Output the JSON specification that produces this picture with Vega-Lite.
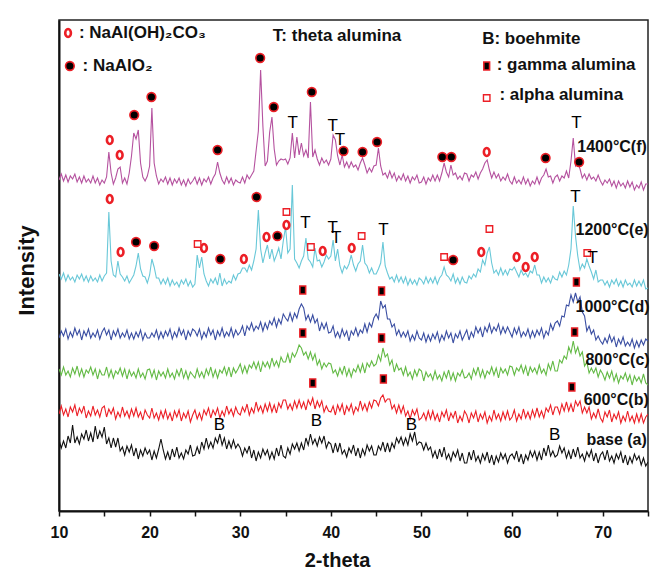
{
  "$schema": "https://vega.github.io/schema/vega-lite/v6.json",
  "width": 589,
  "height": 491,
  "autosize": {"type": "none"},
  "padding": {"left": 59, "top": 20, "right": 2, "bottom": 58},
  "background": "white",
  "config": {"view": {"stroke": "#222222", "strokeWidth": 1.5}, "font": "Liberation Sans"},
  "datasets": {
    "xrd": [
      {"x":10,"a":71,"b":97,"c":142,"d":173,"e":237,"f":331},
      {"x":10.25,"a":63,"b":105,"c":136,"d":180,"e":232,"f":337},
      {"x":10.5,"a":70,"b":96,"c":144,"d":175,"e":238,"f":330},
      {"x":10.75,"a":63,"b":102,"c":136,"d":182,"e":230,"f":336},
      {"x":11,"a":75,"b":94,"c":140,"d":172,"e":236,"f":329},
      {"x":11.25,"a":68,"b":104,"c":134,"d":179,"e":231,"f":335},
      {"x":11.5,"a":86,"b":99,"c":143,"d":174,"e":234,"f":332},
      {"x":11.75,"a":68,"b":106,"c":137,"d":183,"e":229,"f":337},
      {"x":12,"a":74,"b":95,"c":145,"d":176,"e":236,"f":329},
      {"x":12.25,"a":67,"b":103,"c":135,"d":181,"e":232,"f":334},
      {"x":12.5,"a":77,"b":98,"c":142,"d":171,"e":237,"f":328},
      {"x":12.75,"a":72,"b":105,"c":134,"d":180,"e":230,"f":335},
      {"x":13,"a":81,"b":93,"c":141,"d":175,"e":235,"f":329},
      {"x":13.25,"a":70,"b":100,"c":138,"d":182,"e":229,"f":332},
      {"x":13.5,"a":78,"b":95,"c":144,"d":173,"e":235,"f":328},
      {"x":13.75,"a":69,"b":105,"c":136,"d":178,"e":230,"f":335},
      {"x":14,"a":85,"b":96,"c":142,"d":174,"e":233,"f":328},
      {"x":14.25,"a":72,"b":101,"c":132,"d":181,"e":229,"f":333},
      {"x":14.5,"a":80,"b":94,"c":141,"d":172,"e":236,"f":326},
      {"x":14.75,"a":74,"b":103,"c":136,"d":179,"e":230,"f":331},
      {"x":15,"a":84,"b":105,"c":136,"d":183,"e":235,"f":328},
      {"x":15.25,"a":67,"b":94,"c":144,"d":176,"e":238,"f":334},
      {"x":15.5,"a":73,"b":102,"c":134,"d":181,"e":299,"f":359},
      {"x":15.75,"a":63,"b":97,"c":141,"d":171,"e":250,"f":338},
      {"x":16,"a":73,"b":103,"c":133,"d":180,"e":236,"f":327},
      {"x":16.25,"a":64,"b":92,"c":140,"d":175,"e":234,"f":333},
      {"x":16.5,"a":73,"b":99,"c":137,"d":182,"e":250,"f":342},
      {"x":16.75,"a":60,"b":94,"c":143,"d":173,"e":237,"f":344},
      {"x":17,"a":64,"b":104,"c":135,"d":178,"e":234,"f":328},
      {"x":17.25,"a":56,"b":95,"c":142,"d":174,"e":230,"f":333},
      {"x":17.5,"a":65,"b":100,"c":132,"d":181,"e":235,"f":327},
      {"x":17.75,"a":59,"b":93,"c":141,"d":172,"e":228,"f":338},
      {"x":18,"a":66,"b":102,"c":135,"d":178,"e":232,"f":355},
      {"x":18.25,"a":55,"b":95,"c":139,"d":172,"e":236,"f":378},
      {"x":18.5,"a":63,"b":103,"c":133,"d":179,"e":245,"f":372},
      {"x":18.75,"a":52,"b":94,"c":142,"d":174,"e":258,"f":381},
      {"x":19,"a":61,"b":99,"c":134,"d":181,"e":242,"f":348},
      {"x":19.25,"a":55,"b":91,"c":138,"d":171,"e":235,"f":334},
      {"x":19.5,"a":63,"b":101,"c":132,"d":178,"e":234,"f":330},
      {"x":19.75,"a":57,"b":96,"c":141,"d":173,"e":228,"f":335},
      {"x":20,"a":61,"b":93,"c":142,"d":173,"e":236,"f":345},
      {"x":20.25,"a":51,"b":103,"c":134,"d":178,"e":252,"f":403},
      {"x":20.5,"a":60,"b":93,"c":141,"d":174,"e":244,"f":348},
      {"x":20.75,"a":53,"b":98,"c":131,"d":181,"e":233,"f":335},
      {"x":21,"a":62,"b":91,"c":140,"d":172,"e":233,"f":327},
      {"x":21.25,"a":72,"b":100,"c":135,"d":179,"e":227,"f":332},
      {"x":21.5,"a":61,"b":93,"c":139,"d":173,"e":232,"f":329},
      {"x":21.75,"a":52,"b":101,"c":133,"d":180,"e":227,"f":334},
      {"x":22,"a":59,"b":92,"c":142,"d":175,"e":233,"f":327},
      {"x":22.25,"a":51,"b":98,"c":134,"d":182,"e":225,"f":333},
      {"x":22.5,"a":62,"b":90,"c":138,"d":172,"e":231,"f":326},
      {"x":22.75,"a":54,"b":100,"c":132,"d":179,"e":226,"f":332},
      {"x":23,"a":64,"b":94,"c":141,"d":174,"e":229,"f":328},
      {"x":23.25,"a":53,"b":101,"c":135,"d":183,"e":224,"f":333},
      {"x":23.5,"a":58,"b":90,"c":143,"d":176,"e":231,"f":326},
      {"x":23.75,"a":52,"b":98,"c":133,"d":181,"e":227,"f":331},
      {"x":24,"a":61,"b":93,"c":140,"d":171,"e":232,"f":325},
      {"x":24.25,"a":57,"b":100,"c":132,"d":180,"e":225,"f":332},
      {"x":24.5,"a":66,"b":89,"c":139,"d":175,"e":230,"f":327},
      {"x":24.75,"a":55,"b":96,"c":136,"d":182,"e":224,"f":330},
      {"x":25,"a":56,"b":101,"c":133,"d":180,"e":227,"f":334},
      {"x":25.25,"a":64,"b":92,"c":142,"d":175,"e":256,"f":327},
      {"x":25.5,"a":57,"b":98,"c":134,"d":182,"e":243,"f":333},
      {"x":25.75,"a":69,"b":91,"c":139,"d":172,"e":254,"f":326},
      {"x":26,"a":62,"b":101,"c":133,"d":179,"e":237,"f":332},
      {"x":26.25,"a":73,"b":96,"c":142,"d":174,"e":230,"f":329},
      {"x":26.5,"a":63,"b":103,"c":136,"d":183,"e":225,"f":334},
      {"x":26.75,"a":69,"b":93,"c":144,"d":176,"e":232,"f":327},
      {"x":27,"a":63,"b":101,"c":134,"d":181,"e":228,"f":333},
      {"x":27.25,"a":73,"b":96,"c":141,"d":171,"e":233,"f":337},
      {"x":27.5,"a":68,"b":103,"c":133,"d":180,"e":226,"f":349},
      {"x":27.75,"a":77,"b":93,"c":141,"d":175,"e":238,"f":338},
      {"x":28,"a":66,"b":100,"c":138,"d":183,"e":225,"f":331},
      {"x":28.25,"a":73,"b":95,"c":144,"d":174,"e":232,"f":327},
      {"x":28.5,"a":62,"b":105,"c":136,"d":179,"e":227,"f":334},
      {"x":28.75,"a":70,"b":97,"c":144,"d":175,"e":230,"f":328},
      {"x":29,"a":63,"b":102,"c":134,"d":183,"e":228,"f":333},
      {"x":29.25,"a":71,"b":95,"c":143,"d":174,"e":236,"f":326},
      {"x":29.5,"a":63,"b":104,"c":138,"d":181,"e":231,"f":331},
      {"x":29.75,"a":67,"b":98,"c":142,"d":176,"e":237,"f":329},
      {"x":30,"a":63,"b":96,"c":147,"d":179,"e":238,"f":328},
      {"x":30.25,"a":55,"b":104,"c":138,"d":185,"e":243,"f":334},
      {"x":30.5,"a":63,"b":99,"c":145,"d":175,"e":243,"f":328},
      {"x":30.75,"a":58,"b":107,"c":138,"d":185,"e":239,"f":336},
      {"x":31,"a":65,"b":96,"c":146,"d":181,"e":246,"f":332},
      {"x":31.25,"a":53,"b":103,"c":143,"d":188,"e":241,"f":336},
      {"x":31.5,"a":61,"b":98,"c":149,"d":180,"e":250,"f":340},
      {"x":31.75,"a":50,"b":109,"c":142,"d":185,"e":262,"f":360},
      {"x":32,"a":59,"b":100,"c":149,"d":182,"e":301,"f":380},
      {"x":32.25,"a":53,"b":105,"c":139,"d":189,"e":262,"f":441},
      {"x":32.5,"a":62,"b":98,"c":149,"d":180,"e":248,"f":385},
      {"x":32.75,"a":56,"b":107,"c":144,"d":188,"e":258,"f":345},
      {"x":33,"a":61,"b":100,"c":149,"d":182,"e":266,"f":350},
      {"x":33.25,"a":52,"b":108,"c":143,"d":190,"e":252,"f":379},
      {"x":33.5,"a":59,"b":99,"c":153,"d":186,"e":262,"f":394},
      {"x":33.75,"a":52,"b":106,"c":145,"d":193,"e":250,"f":362},
      {"x":34,"a":63,"b":98,"c":150,"d":184,"e":256,"f":346},
      {"x":34.25,"a":55,"b":108,"c":144,"d":192,"e":263,"f":350},
      {"x":34.5,"a":66,"b":103,"c":154,"d":187,"e":252,"f":352},
      {"x":34.75,"a":55,"b":111,"c":149,"d":197,"e":270,"f":351},
      {"x":35,"a":53,"b":111,"c":149,"d":193,"e":284,"f":352},
      {"x":35.25,"a":63,"b":102,"c":157,"d":190,"e":258,"f":347},
      {"x":35.5,"a":57,"b":107,"c":148,"d":198,"e":262,"f":353},
      {"x":35.75,"a":67,"b":101,"c":158,"d":190,"e":326,"f":378},
      {"x":36,"a":62,"b":110,"c":154,"d":198,"e":252,"f":353},
      {"x":36.25,"a":68,"b":103,"c":159,"d":193,"e":248,"f":374},
      {"x":36.5,"a":60,"b":111,"c":166,"d":202,"e":243,"f":356},
      {"x":36.75,"a":68,"b":103,"c":163,"d":207,"e":250,"f":368},
      {"x":37,"a":61,"b":109,"c":156,"d":203,"e":255,"f":355},
      {"x":37.25,"a":73,"b":101,"c":159,"d":191,"e":273,"f":361},
      {"x":37.5,"a":66,"b":111,"c":152,"d":196,"e":252,"f":353},
      {"x":37.75,"a":77,"b":106,"c":159,"d":189,"e":249,"f":409},
      {"x":38,"a":67,"b":113,"c":151,"d":196,"e":244,"f":354},
      {"x":38.25,"a":72,"b":102,"c":157,"d":188,"e":263,"f":361},
      {"x":38.5,"a":65,"b":110,"c":146,"d":192,"e":250,"f":352},
      {"x":38.75,"a":74,"b":104,"c":151,"d":180,"e":251,"f":346},
      {"x":39,"a":68,"b":110,"c":142,"d":188,"e":244,"f":353},
      {"x":39.25,"a":75,"b":99,"c":148,"d":182,"e":249,"f":348},
      {"x":39.5,"a":63,"b":105,"c":144,"d":188,"e":256,"f":351},
      {"x":39.75,"a":69,"b":100,"c":148,"d":178,"e":252,"f":346},
      {"x":40,"a":67,"b":99,"c":147,"d":179,"e":255,"f":352},
      {"x":40.25,"a":58,"b":105,"c":138,"d":185,"e":271,"f":376},
      {"x":40.5,"a":68,"b":96,"c":141,"d":174,"e":250,"f":371},
      {"x":40.75,"a":59,"b":106,"c":135,"d":179,"e":262,"f":355},
      {"x":41,"a":68,"b":100,"c":143,"d":173,"e":245,"f":346},
      {"x":41.25,"a":57,"b":107,"c":137,"d":182,"e":238,"f":356},
      {"x":41.5,"a":61,"b":96,"c":145,"d":175,"e":245,"f":344},
      {"x":41.75,"a":54,"b":105,"c":135,"d":180,"e":242,"f":349},
      {"x":42,"a":63,"b":100,"c":142,"d":170,"e":247,"f":343},
      {"x":42.25,"a":58,"b":107,"c":134,"d":180,"e":256,"f":349},
      {"x":42.5,"a":66,"b":97,"c":142,"d":176,"e":246,"f":344},
      {"x":42.75,"a":55,"b":104,"c":139,"d":183,"e":240,"f":346},
      {"x":43,"a":63,"b":100,"c":146,"d":175,"e":247,"f":341},
      {"x":43.25,"a":53,"b":110,"c":139,"d":181,"e":250,"f":348},
      {"x":43.5,"a":62,"b":101,"c":147,"d":178,"e":266,"f":353},
      {"x":43.75,"a":56,"b":107,"c":138,"d":187,"e":248,"f":346},
      {"x":44,"a":66,"b":100,"c":148,"d":179,"e":245,"f":338},
      {"x":44.25,"a":60,"b":109,"c":144,"d":188,"e":238,"f":343},
      {"x":44.5,"a":65,"b":103,"c":150,"d":184,"e":243,"f":339},
      {"x":44.75,"a":56,"b":111,"c":145,"d":193,"e":237,"f":345},
      {"x":45,"a":56,"b":110,"c":147,"d":197,"e":237,"f":346},
      {"x":45.25,"a":65,"b":105,"c":156,"d":192,"e":242,"f":363},
      {"x":45.5,"a":61,"b":113,"c":150,"d":210,"e":248,"f":345},
      {"x":45.75,"a":69,"b":116,"c":163,"d":203,"e":269,"f":336},
      {"x":46,"a":59,"b":109,"c":154,"d":206,"e":245,"f":338},
      {"x":46.25,"a":68,"b":112,"c":157,"d":192,"e":238,"f":333},
      {"x":46.5,"a":59,"b":112,"c":146,"d":192,"e":232,"f":340},
      {"x":46.75,"a":68,"b":102,"c":151,"d":184,"e":234,"f":333},
      {"x":47,"a":63,"b":106,"c":139,"d":187,"e":229,"f":338},
      {"x":47.25,"a":73,"b":98,"c":147,"d":176,"e":236,"f":330},
      {"x":47.5,"a":68,"b":106,"c":141,"d":181,"e":229,"f":335},
      {"x":47.75,"a":74,"b":98,"c":143,"d":174,"e":234,"f":331},
      {"x":48,"a":66,"b":105,"c":136,"d":179,"e":228,"f":337},
      {"x":48.25,"a":73,"b":95,"c":144,"d":174,"e":234,"f":330},
      {"x":48.5,"a":66,"b":100,"c":135,"d":180,"e":226,"f":335},
      {"x":48.75,"a":77,"b":92,"c":139,"d":170,"e":232,"f":328},
      {"x":49,"a":70,"b":101,"c":132,"d":176,"e":227,"f":334},
      {"x":49.25,"a":79,"b":96,"c":141,"d":171,"e":231,"f":331},
      {"x":49.5,"a":66,"b":102,"c":135,"d":180,"e":226,"f":336},
      {"x":49.75,"a":69,"b":91,"c":142,"d":173,"e":233,"f":328},
      {"x":50,"a":68,"b":93,"c":140,"d":171,"e":231,"f":329},
      {"x":50.25,"a":61,"b":98,"c":130,"d":178,"e":227,"f":334},
      {"x":50.5,"a":68,"b":91,"c":139,"d":169,"e":234,"f":327},
      {"x":50.75,"a":61,"b":100,"c":134,"d":176,"e":228,"f":333},
      {"x":51,"a":64,"b":92,"c":137,"d":170,"e":233,"f":330},
      {"x":51.25,"a":54,"b":100,"c":131,"d":177,"e":228,"f":336},
      {"x":51.5,"a":60,"b":91,"c":140,"d":172,"e":234,"f":330},
      {"x":51.75,"a":52,"b":97,"c":132,"d":179,"e":227,"f":336},
      {"x":52,"a":62,"b":89,"c":136,"d":169,"e":233,"f":330},
      {"x":52.25,"a":54,"b":99,"c":130,"d":176,"e":236,"f":338},
      {"x":52.5,"a":64,"b":94,"c":139,"d":171,"e":244,"f":348},
      {"x":52.75,"a":52,"b":101,"c":133,"d":180,"e":236,"f":339},
      {"x":53,"a":57,"b":90,"c":141,"d":173,"e":234,"f":334},
      {"x":53.25,"a":50,"b":98,"c":131,"d":178,"e":230,"f":346},
      {"x":53.5,"a":59,"b":93,"c":138,"d":168,"e":237,"f":336},
      {"x":53.75,"a":54,"b":100,"c":130,"d":177,"e":228,"f":338},
      {"x":54,"a":61,"b":88,"c":138,"d":173,"e":233,"f":332},
      {"x":54.25,"a":50,"b":95,"c":135,"d":180,"e":227,"f":335},
      {"x":54.5,"a":58,"b":90,"c":141,"d":171,"e":234,"f":331},
      {"x":54.75,"a":48,"b":100,"c":133,"d":176,"e":229,"f":338},
      {"x":55,"a":48,"b":96,"c":134,"d":181,"e":228,"f":337},
      {"x":55.25,"a":59,"b":88,"c":138,"d":171,"e":235,"f":330},
      {"x":55.5,"a":51,"b":98,"c":132,"d":179,"e":232,"f":336},
      {"x":55.75,"a":61,"b":93,"c":142,"d":174,"e":237,"f":334},
      {"x":56,"a":50,"b":100,"c":136,"d":184,"e":234,"f":339},
      {"x":56.25,"a":55,"b":89,"c":144,"d":178,"e":242,"f":332},
      {"x":56.5,"a":48,"b":97,"c":134,"d":183,"e":239,"f":338},
      {"x":56.75,"a":57,"b":92,"c":141,"d":174,"e":251,"f":342},
      {"x":57,"a":51,"b":99,"c":133,"d":184,"e":246,"f":348},
      {"x":57.25,"a":59,"b":88,"c":140,"d":179,"e":258,"f":351},
      {"x":57.5,"a":48,"b":95,"c":137,"d":187,"e":264,"f":341},
      {"x":57.75,"a":56,"b":90,"c":144,"d":178,"e":248,"f":333},
      {"x":58,"a":46,"b":101,"c":136,"d":184,"e":238,"f":339},
      {"x":58.25,"a":55,"b":92,"c":143,"d":180,"e":241,"f":333},
      {"x":58.5,"a":49,"b":97,"c":133,"d":187,"e":236,"f":337},
      {"x":58.75,"a":58,"b":90,"c":143,"d":177,"e":243,"f":330},
      {"x":59,"a":52,"b":99,"c":138,"d":184,"e":236,"f":334},
      {"x":59.25,"a":57,"b":92,"c":142,"d":178,"e":241,"f":331},
      {"x":59.5,"a":48,"b":100,"c":136,"d":184,"e":236,"f":337},
      {"x":59.75,"a":55,"b":91,"c":145,"d":179,"e":242,"f":330},
      {"x":60,"a":57,"b":94,"c":144,"d":174,"e":241,"f":327},
      {"x":60.25,"a":52,"b":101,"c":136,"d":183,"e":244,"f":334},
      {"x":60.5,"a":60,"b":90,"c":143,"d":177,"e":239,"f":328},
      {"x":60.75,"a":49,"b":97,"c":140,"d":184,"e":234,"f":331},
      {"x":61,"a":57,"b":92,"c":146,"d":174,"e":241,"f":327},
      {"x":61.25,"a":47,"b":102,"c":138,"d":179,"e":236,"f":334},
      {"x":61.5,"a":56,"b":93,"c":145,"d":175,"e":238,"f":327},
      {"x":61.75,"a":51,"b":99,"c":135,"d":182,"e":234,"f":332},
      {"x":62,"a":60,"b":92,"c":144,"d":173,"e":240,"f":325},
      {"x":62.25,"a":54,"b":101,"c":139,"d":180,"e":238,"f":330},
      {"x":62.5,"a":60,"b":94,"c":143,"d":174,"e":246,"f":327},
      {"x":62.75,"a":51,"b":103,"c":137,"d":181,"e":236,"f":334},
      {"x":63,"a":59,"b":94,"c":146,"d":176,"e":236,"f":327},
      {"x":63.25,"a":51,"b":100,"c":138,"d":183,"e":228,"f":333},
      {"x":63.5,"a":63,"b":93,"c":142,"d":173,"e":234,"f":336},
      {"x":63.75,"a":55,"b":103,"c":136,"d":180,"e":229,"f":342},
      {"x":64,"a":66,"b":99,"c":147,"d":176,"e":233,"f":334},
      {"x":64.25,"a":55,"b":106,"c":141,"d":187,"e":228,"f":335},
      {"x":64.5,"a":60,"b":96,"c":150,"d":181,"e":235,"f":328},
      {"x":64.75,"a":54,"b":104,"c":140,"d":188,"e":232,"f":334},
      {"x":65,"a":56,"b":104,"c":140,"d":190,"e":231,"f":336},
      {"x":65.25,"a":65,"b":97,"c":151,"d":185,"e":239,"f":330},
      {"x":65.5,"a":58,"b":107,"c":148,"d":195,"e":234,"f":335},
      {"x":65.75,"a":63,"b":100,"c":155,"d":194,"e":240,"f":333},
      {"x":66,"a":53,"b":109,"c":152,"d":206,"e":236,"f":340},
      {"x":66.25,"a":60,"b":100,"c":164,"d":205,"e":246,"f":333},
      {"x":66.5,"a":52,"b":107,"c":158,"d":216,"e":262,"f":350},
      {"x":66.75,"a":62,"b":99,"c":170,"d":209,"e":305,"f":373},
      {"x":67,"a":54,"b":110,"c":158,"d":218,"e":275,"f":345},
      {"x":67.25,"a":64,"b":105,"c":164,"d":209,"e":255,"f":348},
      {"x":67.5,"a":53,"b":110,"c":155,"d":214,"e":241,"f":342},
      {"x":67.75,"a":57,"b":98,"c":159,"d":199,"e":247,"f":333},
      {"x":68,"a":50,"b":104,"c":145,"d":195,"e":243,"f":337},
      {"x":68.25,"a":59,"b":98,"c":149,"d":180,"e":252,"f":331},
      {"x":68.5,"a":54,"b":104,"c":138,"d":185,"e":245,"f":337},
      {"x":68.75,"a":61,"b":92,"c":143,"d":177,"e":239,"f":332},
      {"x":69,"a":50,"b":98,"c":138,"d":181,"e":232,"f":334},
      {"x":69.25,"a":58,"b":93,"c":143,"d":171,"e":241,"f":330},
      {"x":69.5,"a":48,"b":102,"c":134,"d":175,"e":229,"f":336},
      {"x":69.75,"a":56,"b":93,"c":141,"d":170,"e":231,"f":330},
      {"x":70,"a":59,"b":89,"c":137,"d":167,"e":231,"f":326},
      {"x":70.25,"a":51,"b":99,"c":131,"d":173,"e":226,"f":331},
      {"x":70.5,"a":61,"b":94,"c":139,"d":168,"e":230,"f":328},
      {"x":70.75,"a":50,"b":101,"c":133,"d":176,"e":224,"f":332},
      {"x":71,"a":55,"b":89,"c":140,"d":169,"e":231,"f":325},
      {"x":71.25,"a":48,"b":97,"c":130,"d":174,"e":227,"f":330},
      {"x":71.5,"a":57,"b":92,"c":137,"d":164,"e":232,"f":323},
      {"x":71.75,"a":52,"b":99,"c":128,"d":172,"e":225,"f":330},
      {"x":72,"a":59,"b":88,"c":135,"d":167,"e":230,"f":325},
      {"x":72.25,"a":48,"b":95,"c":132,"d":174,"e":224,"f":328},
      {"x":72.5,"a":56,"b":90,"c":138,"d":165,"e":231,"f":323},
      {"x":72.75,"a":46,"b":100,"c":130,"d":169,"e":226,"f":330},
      {"x":73,"a":54,"b":90,"c":136,"d":165,"e":228,"f":324},
      {"x":73.25,"a":48,"b":95,"c":126,"d":172,"e":224,"f":329},
      {"x":73.5,"a":57,"b":88,"c":135,"d":163,"e":231,"f":321},
      {"x":73.75,"a":51,"b":97,"c":130,"d":170,"e":225,"f":326},
      {"x":74,"a":55,"b":89,"c":134,"d":164,"e":230,"f":323},
      {"x":74.25,"a":46,"b":97,"c":128,"d":171,"e":225,"f":329},
      {"x":74.5,"a":53,"b":88,"c":137,"d":166,"e":231,"f":321},
      {"x":74.75,"a":45,"b":94,"c":128,"d":172,"e":222,"f":327},
      {"x":75,"a":49,"b":97,"c":126,"d":170,"e":223,"f":327}
    ],
    "phases": [
      {"x":15.6,"counts":371,"kind":"carbonate"},
      {"x":16.7,"counts":356,"kind":"carbonate"},
      {"x":57.2,"counts":359,"kind":"carbonate"},
      {"x":15.6,"counts":312,"kind":"carbonate"},
      {"x":16.8,"counts":259,"kind":"carbonate"},
      {"x":26.0,"counts":263,"kind":"carbonate"},
      {"x":30.4,"counts":252,"kind":"carbonate"},
      {"x":32.9,"counts":274,"kind":"carbonate"},
      {"x":35.1,"counts":286,"kind":"carbonate"},
      {"x":39.1,"counts":260,"kind":"carbonate"},
      {"x":42.3,"counts":263,"kind":"carbonate"},
      {"x":56.6,"counts":259,"kind":"carbonate"},
      {"x":60.5,"counts":254,"kind":"carbonate"},
      {"x":61.5,"counts":244,"kind":"carbonate"},
      {"x":62.5,"counts":254,"kind":"carbonate"},
      {"x":11.0,"counts":478,"kind":"carbonate"},
      {"x":18.3,"counts":396,"kind":"aluminate"},
      {"x":20.2,"counts":414,"kind":"aluminate"},
      {"x":27.5,"counts":361,"kind":"aluminate"},
      {"x":32.2,"counts":453,"kind":"aluminate"},
      {"x":33.7,"counts":404,"kind":"aluminate"},
      {"x":37.9,"counts":419,"kind":"aluminate"},
      {"x":41.4,"counts":360,"kind":"aluminate"},
      {"x":43.5,"counts":359,"kind":"aluminate"},
      {"x":45.1,"counts":369,"kind":"aluminate"},
      {"x":52.3,"counts":354,"kind":"aluminate"},
      {"x":53.3,"counts":354,"kind":"aluminate"},
      {"x":63.7,"counts":353,"kind":"aluminate"},
      {"x":67.4,"counts":349,"kind":"aluminate"},
      {"x":18.5,"counts":269,"kind":"aluminate"},
      {"x":20.5,"counts":265,"kind":"aluminate"},
      {"x":27.8,"counts":252,"kind":"aluminate"},
      {"x":31.8,"counts":314,"kind":"aluminate"},
      {"x":34.1,"counts":275,"kind":"aluminate"},
      {"x":53.5,"counts":251,"kind":"aluminate"},
      {"x":11.2,"counts":445,"kind":"aluminate"},
      {"x":36.9,"counts":221,"kind":"gamma"},
      {"x":45.6,"counts":220,"kind":"gamma"},
      {"x":67.1,"counts":229,"kind":"gamma"},
      {"x":36.9,"counts":178,"kind":"gamma"},
      {"x":45.6,"counts":173,"kind":"gamma"},
      {"x":66.9,"counts":179,"kind":"gamma"},
      {"x":38.0,"counts":128,"kind":"gamma"},
      {"x":45.8,"counts":132,"kind":"gamma"},
      {"x":66.6,"counts":124,"kind":"gamma"},
      {"x":57.2,"counts":445,"kind":"gamma"},
      {"x":25.3,"counts":267,"kind":"alpha"},
      {"x":35.1,"counts":299,"kind":"alpha"},
      {"x":37.8,"counts":264,"kind":"alpha"},
      {"x":43.4,"counts":275,"kind":"alpha"},
      {"x":52.5,"counts":254,"kind":"alpha"},
      {"x":57.5,"counts":282,"kind":"alpha"},
      {"x":68.3,"counts":258,"kind":"alpha"},
      {"x":57.2,"counts":413,"kind":"alpha"}
    ],
    "notes": [
      {"x":35.8,"counts":388,"label":"T","kind":"letter"},
      {"x":40.2,"counts":385,"label":"T","kind":"letter"},
      {"x":41.0,"counts":371,"label":"T","kind":"letter"},
      {"x":67.1,"counts":388,"label":"T","kind":"letter"},
      {"x":37.2,"counts":288,"label":"T","kind":"letter"},
      {"x":40.2,"counts":283,"label":"T","kind":"letter"},
      {"x":40.6,"counts":273,"label":"T","kind":"letter"},
      {"x":45.8,"counts":281,"label":"T","kind":"letter"},
      {"x":67.0,"counts":314,"label":"T","kind":"letter"},
      {"x":68.9,"counts":253,"label":"T","kind":"letter"},
      {"x":27.7,"counts":86,"label":"B","kind":"letter"},
      {"x":38.4,"counts":90,"label":"B","kind":"letter"},
      {"x":48.9,"counts":86,"label":"B","kind":"letter"},
      {"x":64.7,"counts":76,"label":"B","kind":"letter"},
      {"x":67.2,"counts":364,"label":"1400°C(f)","kind":"sample"},
      {"x":67.0,"counts":281,"label":"1200°C(e)","kind":"sample"},
      {"x":67.0,"counts":204,"label":"1000°C(d)","kind":"sample"},
      {"x":68.1,"counts":151,"label":"800°C(c)","kind":"sample"},
      {"x":67.9,"counts":111,"label":"600°C(b)","kind":"sample"},
      {"x":68.2,"counts":71,"label":"base (a)","kind":"sample"},
      {"x":12.2,"counts":478,"label":": NaAl(OH)₂CO₃","kind":"key"},
      {"x":12.6,"counts":445,"label":": NaAlO₂","kind":"key"},
      {"x":33.6,"counts":475,"label":"T: theta alumina","kind":"key"},
      {"x":56.7,"counts":472,"label":"B: boehmite","kind":"key"},
      {"x":58.3,"counts":446,"label":": gamma alumina","kind":"key"},
      {"x":58.6,"counts":416,"label":": alpha alumina","kind":"key"}
    ]
  },
  "encoding": {
    "x": {
      "field": "x",
      "type": "quantitative",
      "scale": {"domain": [10, 75], "nice": false, "zero": false},
      "axis": {
        "title": "2-theta",
        "values": [10, 15, 20, 25, 30, 35, 40, 45, 50, 55, 60, 65, 70, 75],
        "labelExpr": "datum.value % 10 === 0 ? datum.label : ''",
        "labelFlush": false,
        "labelOverlap": false,
        "grid": false,
        "tickSize": 5,
        "tickWidth": 1.5,
        "tickColor": "#111111",
        "domainColor": "#111111",
        "domainWidth": 2,
        "labelFont": "Liberation Sans",
        "labelFontSize": 16,
        "labelFontWeight": "bold",
        "labelColor": "#111111",
        "labelBaseline": "alphabetic",
        "labelPadding": 21,
        "titleFont": "Liberation Sans",
        "titleFontSize": 20,
        "titleFontWeight": "bold",
        "titleColor": "#111111",
        "titleX": 278,
        "titleY": 55,
        "titleAlign": "center",
        "titleBaseline": "alphabetic"
      }
    },
    "y": {
      "field": "counts",
      "type": "quantitative",
      "scale": {"domain": [0, 491], "nice": false, "zero": false},
      "axis": {
        "title": "Intensity",
        "ticks": false,
        "labels": false,
        "grid": false,
        "domainColor": "#111111",
        "domainWidth": 2,
        "titleFont": "Liberation Sans",
        "titleFontSize": 22,
        "titleFontWeight": "bold",
        "titleColor": "#111111",
        "titleX": -26,
        "titleY": 250,
        "titleAngle": -90,
        "titleAlign": "center",
        "titleBaseline": "alphabetic"
      }
    }
  },
  "layer": [
    {
      "data": {"name": "xrd"},
      "transform": [{"fold": ["a", "b", "c", "d", "e", "f"], "as": ["sample", "counts"]}],
      "mark": {"type": "line", "strokeWidth": 1.1, "clip": true},
      "encoding": {
        "color": {
          "field": "sample",
          "type": "nominal",
          "scale": {"domain": ["a", "b", "c", "d", "e", "f"], "range": ["#111111", "#ec1f26", "#63ba45", "#3a4ea2", "#69c8d8", "#b5529f"]},
          "legend": null
        }
      }
    },
    {
      "data": {"name": "phases"},
      "transform": [{"filter": "datum.kind === 'carbonate'"}],
      "mark": {"type": "point", "shape": "M0,-1.25A0.9,1.25 0 1,1 0,1.25A0.9,1.25 0 1,1 0,-1.25Z", "filled": true, "fill": "#ffffff", "stroke": "#ec1f26", "strokeWidth": 2.6, "size": 40, "opacity": 1}
    },
    {
      "data": {"name": "phases"},
      "transform": [{"filter": "datum.kind === 'aluminate'"}],
      "mark": {"type": "point", "shape": "circle", "filled": true, "fill": "#000000", "stroke": "#ec1f26", "strokeWidth": 1.6, "size": 75, "opacity": 1}
    },
    {
      "data": {"name": "phases"},
      "transform": [{"filter": "datum.kind === 'gamma'"}],
      "mark": {"type": "point", "shape": "M-0.72,-1L0.72,-1L0.72,1L-0.72,1Z", "filled": true, "fill": "#000000", "stroke": "#ec1f26", "strokeWidth": 1.6, "size": 64, "opacity": 1}
    },
    {
      "data": {"name": "phases"},
      "transform": [{"filter": "datum.kind === 'alpha'"}],
      "mark": {"type": "point", "shape": "square", "filled": true, "fill": "#ffffff", "stroke": "#ec1f26", "strokeWidth": 1.4, "size": 42, "opacity": 1}
    },
    {
      "data": {"name": "notes"},
      "transform": [{"filter": "datum.kind === 'letter'"}],
      "mark": {"type": "text", "font": "Liberation Sans", "fontSize": 17, "align": "center", "baseline": "middle", "color": "#000000"},
      "encoding": {"text": {"field": "label"}}
    },
    {
      "data": {"name": "notes"},
      "transform": [{"filter": "datum.kind === 'sample'"}],
      "mark": {"type": "text", "font": "Liberation Sans", "fontSize": 16, "fontWeight": "bold", "align": "left", "baseline": "middle", "color": "#111111"},
      "encoding": {"text": {"field": "label"}}
    },
    {
      "data": {"name": "notes"},
      "transform": [{"filter": "datum.kind === 'key'"}],
      "mark": {"type": "text", "font": "Liberation Sans", "fontSize": 17, "fontWeight": "bold", "align": "left", "baseline": "middle", "color": "#111111"},
      "encoding": {"text": {"field": "label"}}
    }
  ]
}
